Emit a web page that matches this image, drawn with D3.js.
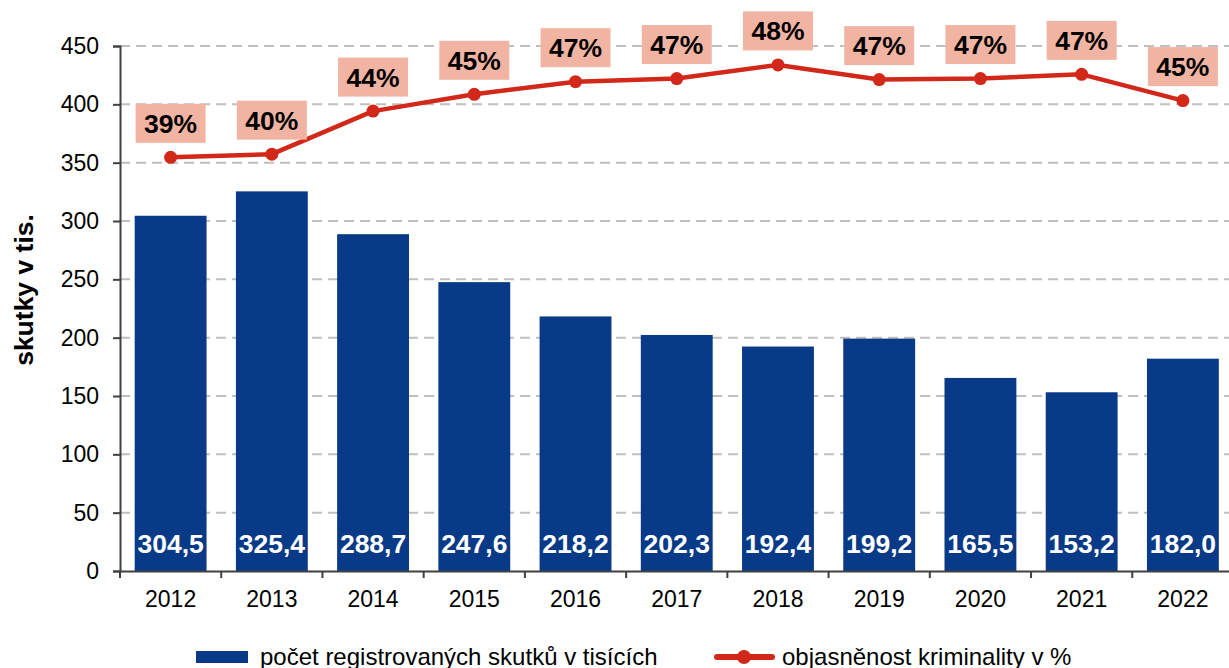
<!DOCTYPE html>
<html>
<head>
<meta charset="utf-8">
<script src="https://cdn.jsdelivr.net/npm/d3@7"></script>
<style>
  body { margin: 0; background: #fff; }
  svg { font-family: "Liberation Sans", Arial, sans-serif; }
</style>
</head>
<body>
<div id="chart"></div>
<script>
// data
const years = ["2012", "2013", "2014", "2015", "2016", "2017", "2018", "2019", "2020", "2021", "2022"];
const offences = [304.5, 325.4, 288.7, 247.6, 218.2, 202.3, 192.4, 199.2, 165.5, 153.2, 182.0];
const clearance = [39.4, 39.7, 43.8, 45.4, 46.6, 46.9, 48.2, 46.8, 46.9, 47.3, 44.8];
const yTicks = [0, 50, 100, 150, 200, 250, 300, 350, 400, 450];

const W = 1229, H = 668;
const svg = d3.select("#chart").append("svg")
    .attr("width", W)
    .attr("height", H);

// scales
const x = d3.scaleBand()
    .domain(years)
    .range([120, 1233.5])
    .paddingInner(0.29)
    .paddingOuter(0.145);

const y = d3.scaleLinear().domain([0, 450]).range([571, 46]);
// hidden secondary axis for the percent line
const yPct = d3.scaleLinear().domain([0, 50]).range([571, 46]);

const step = x.step();
const cx = d => x(d) + x.bandwidth() / 2;

// gridlines
svg.append("g")
    .selectAll("line")
    .data(yTicks.filter(d => d > 0))
    .enter().append("line")
    .attr("x1", 120).attr("x2", W)
    .attr("y1", d => y(d)).attr("y2", d => y(d))
    .attr("stroke", "#bfbfbf")
    .attr("stroke-width", 2)
    .attr("stroke-dasharray", "10,6");

// bars
svg.append("g")
    .selectAll("rect")
    .data(years)
    .enter().append("rect")
    .attr("x", d => x(d))
    .attr("y", (d, i) => y(offences[i]))
    .attr("width", x.bandwidth())
    .attr("height", (d, i) => y(0) - y(offences[i]))
    .attr("fill", "#083a87");

// bar value labels
svg.append("g")
    .selectAll("text")
    .data(years)
    .enter().append("text")
    .attr("x", cx)
    .attr("y", 553)
    .attr("text-anchor", "middle")
    .attr("fill", "#fff")
    .attr("font-weight", "bold")
    .attr("font-size", 26.5)
    .text((d, i) => offences[i].toFixed(1).replace(".", ","));

// y axis
const yAxis = d3.axisLeft(y).tickValues(yTicks).tickSize(7).tickPadding(14);
const gy = svg.append("g")
    .attr("transform", "translate(120,0)")
    .call(yAxis);
gy.select(".domain").attr("stroke", "#404040").attr("stroke-width", 2);
gy.selectAll(".tick line").attr("stroke", "#404040").attr("stroke-width", 2);
gy.selectAll(".tick text").attr("font-size", 23).attr("fill", "#000")
    .attr("font-family", "Liberation Sans, Arial, sans-serif");

// x axis (labels at band centres, ticks at band boundaries)
const xAxis = d3.axisBottom(x).tickSize(0).tickPadding(20);
const gx = svg.append("g")
    .attr("transform", "translate(0,571)")
    .call(xAxis);
gx.select(".domain").attr("stroke", "#404040").attr("stroke-width", 2);
gx.selectAll(".tick text").attr("font-size", 23).attr("fill", "#000")
    .attr("font-family", "Liberation Sans, Arial, sans-serif");
gx.selectAll(".boundary")
    .data(years.map((d, i) => i).concat([years.length]))
    .enter().append("line")
    .attr("class", "boundary")
    .attr("x1", i => x.range()[0] + i * step)
    .attr("x2", i => x.range()[0] + i * step)
    .attr("y1", 0).attr("y2", 7)
    .attr("stroke", "#404040").attr("stroke-width", 2);

// y axis title
svg.append("text")
    .attr("transform", "translate(33,290) rotate(-90)")
    .attr("text-anchor", "middle")
    .attr("font-weight", "bold")
    .attr("font-size", 26.5)
    .text("skutky v tis.");

// clearance line
const line = d3.line()
    .x(d => cx(d.year))
    .y(d => yPct(d.value));
const pts = years.map((d, i) => ({ year: d, value: clearance[i] }));

svg.append("path")
    .datum(pts)
    .attr("d", line)
    .attr("fill", "none")
    .attr("stroke", "#d2281a")
    .attr("stroke-width", 4.5)
    .attr("stroke-linejoin", "round");

svg.append("g")
    .selectAll("circle")
    .data(pts)
    .enter().append("circle")
    .attr("cx", d => cx(d.year))
    .attr("cy", d => yPct(d.value))
    .attr("r", 6.5)
    .attr("fill", "#d2281a");

// percent labels with boxes
const lbl = svg.append("g")
    .selectAll("g")
    .data(pts)
    .enter().append("g")
    .attr("transform", d => `translate(${cx(d.year)},${yPct(d.value) - 34})`);
lbl.append("rect")
    .attr("x", -35).attr("y", -19.5)
    .attr("width", 70).attr("height", 39)
    .attr("fill", "#f2b4a2");
lbl.append("text")
    .attr("y", 9.5)
    .attr("text-anchor", "middle")
    .attr("font-weight", "bold")
    .attr("font-size", 26.5)
    .attr("fill", "#000")
    .text(d => Math.round(d.value) + "%");

// legend
const leg = svg.append("g");
leg.append("rect")
    .attr("x", 196).attr("y", 651)
    .attr("width", 52).attr("height", 12)
    .attr("fill", "#083a87");
leg.append("text")
    .attr("x", 260).attr("y", 665)
    .attr("font-size", 24)
    .text("počet registrovaných skutků v tisících");
leg.append("line")
    .attr("x1", 717).attr("x2", 772)
    .attr("y1", 657).attr("y2", 657)
    .attr("stroke", "#d2281a")
    .attr("stroke-width", 6)
    .attr("stroke-linecap", "round");
leg.append("circle")
    .attr("cx", 744).attr("cy", 657).attr("r", 7)
    .attr("fill", "#d2281a");
leg.append("text")
    .attr("x", 782).attr("y", 665)
    .attr("font-size", 24)
    .text("objasněnost kriminality v %");
</script>
</body>
</html>
